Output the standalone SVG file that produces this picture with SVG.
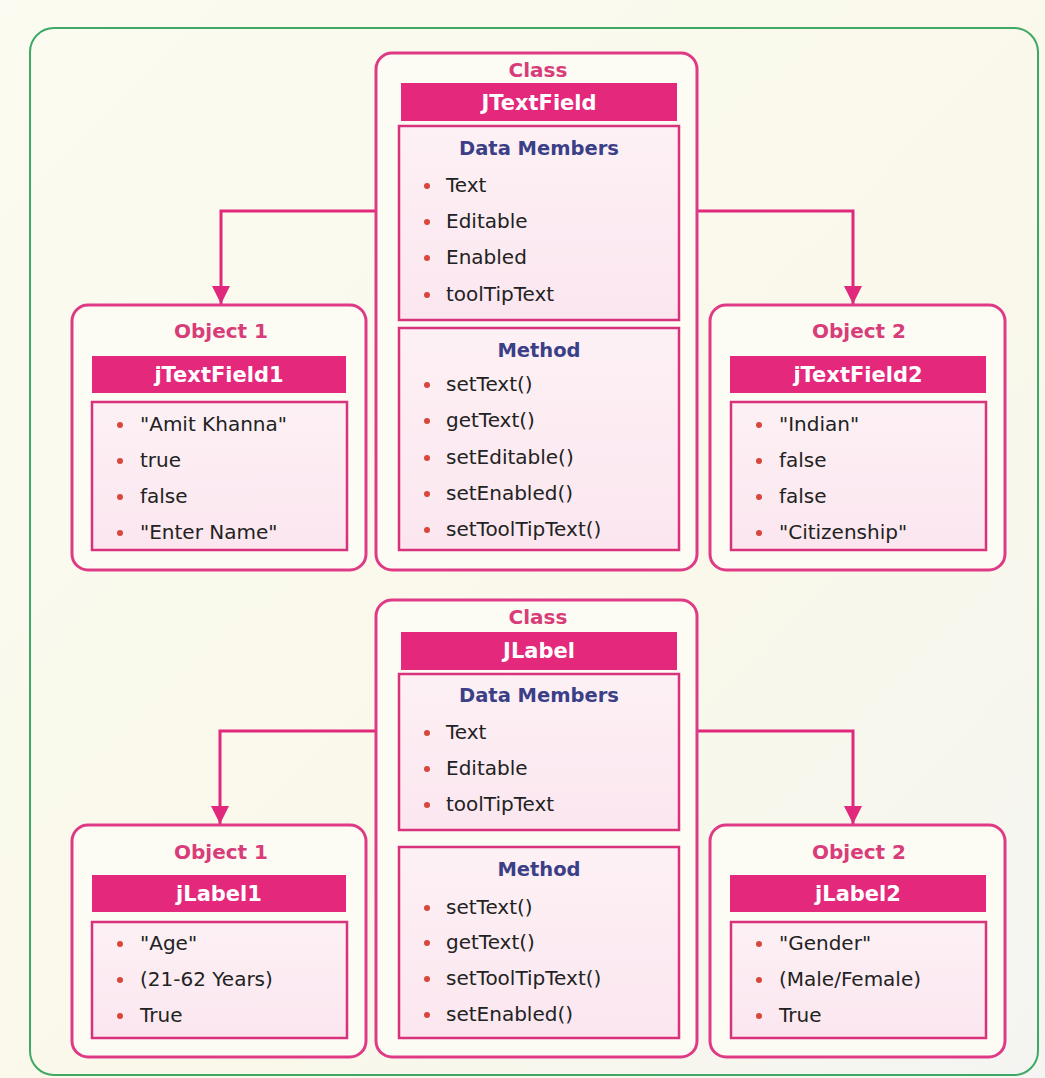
<svg xmlns="http://www.w3.org/2000/svg" width="1045" height="1078" viewBox="0 0 1045 1078">
<defs>
<linearGradient id="bg" x1="0" y1="0" x2="1" y2="1">
<stop offset="0" stop-color="#fcfbf1"/>
<stop offset="0.6" stop-color="#f9f8ea"/>
<stop offset="1" stop-color="#f4f5f2"/>
</linearGradient>
<linearGradient id="inner" x1="0" y1="0" x2="0" y2="1">
<stop offset="0" stop-color="#fdf1f5"/>
<stop offset="1" stop-color="#fbe6ef"/>
</linearGradient>
<marker id="arr" viewBox="0 0 10 10" refX="10" refY="5" markerWidth="6" markerHeight="6" markerUnits="strokeWidth" orient="auto">
<path d="M0,0 L10,5 L0,10 Z" fill="#e0287c"/>
</marker>
<style>
.outer{fill:#fdfcf4;stroke:#df3a86;stroke-width:3}
.bar{fill:#e4287c}
.inner{fill:url(#inner);stroke:#d9327d;stroke-width:2.5}
.hd{font-family:"DejaVu Sans",sans-serif;font-weight:bold;font-size:20px;fill:#d83d7a;text-anchor:middle}
.bt{font-family:"DejaVu Sans",sans-serif;font-weight:bold;font-size:21px;fill:#ffffff;text-anchor:middle}
.sec{font-family:"DejaVu Sans",sans-serif;font-weight:bold;font-size:19.5px;fill:#3b3f88;text-anchor:middle}
.it{font-family:"DejaVu Sans",sans-serif;font-size:20px;fill:#222222}
.dot{fill:#d8463c}
.conn{fill:none;stroke:#e0287c;stroke-width:3}
</style>
</defs>
<rect x="0" y="0" width="1045" height="1078" fill="url(#bg)"/>
<rect x="30" y="28" width="1008" height="1047" rx="24" fill="none" stroke="#3fa865" stroke-width="2"/>

<g id="connectors">
<path class="conn" d="M376,211 H221 V304" marker-end="url(#arr)"/>
<path class="conn" d="M697,211 H853 V304" marker-end="url(#arr)"/>
<path class="conn" d="M376,731 H220 V824" marker-end="url(#arr)"/>
<path class="conn" d="M697,731 H853 V824" marker-end="url(#arr)"/>
</g>

<g id="class-jtextfield">
<rect class="outer" x="376" y="53" width="321" height="517" rx="16"/>
<text class="hd" x="538" y="77">Class</text>
<rect class="bar" x="401" y="83" width="276" height="38"/>
<text class="bt" x="539" y="110">JTextField</text>
<rect class="inner" x="399" y="126" width="280" height="194"/>
<text class="sec" x="539" y="155">Data Members</text>
<circle class="dot" cx="427" cy="186" r="3"/><text class="it" x="446" y="192">Text</text>
<circle class="dot" cx="427" cy="222" r="3"/><text class="it" x="446" y="228">Editable</text>
<circle class="dot" cx="427" cy="258" r="3"/><text class="it" x="446" y="264">Enabled</text>
<circle class="dot" cx="427" cy="295" r="3"/><text class="it" x="446" y="301">toolTipText</text>
<rect class="inner" x="399" y="328" width="280" height="222"/>
<text class="sec" x="539" y="357">Method</text>
<circle class="dot" cx="427" cy="385" r="3"/><text class="it" x="446" y="391">setText()</text>
<circle class="dot" cx="427" cy="421" r="3"/><text class="it" x="446" y="427">getText()</text>
<circle class="dot" cx="427" cy="458" r="3"/><text class="it" x="446" y="464">setEditable()</text>
<circle class="dot" cx="427" cy="494" r="3"/><text class="it" x="446" y="500">setEnabled()</text>
<circle class="dot" cx="427" cy="530" r="3"/><text class="it" x="446" y="536">setToolTipText()</text>
</g>

<g id="object1-jtextfield1">
<rect class="outer" x="72" y="305" width="294" height="265" rx="16"/>
<text class="hd" x="221" y="338">Object 1</text>
<rect class="bar" x="92" y="356" width="254" height="37"/>
<text class="bt" x="219" y="382">jTextField1</text>
<rect class="inner" x="92" y="402" width="255" height="148"/>
<circle class="dot" cx="120" cy="425" r="3"/><text class="it" x="140" y="431">"Amit Khanna"</text>
<circle class="dot" cx="120" cy="461" r="3"/><text class="it" x="140" y="467">true</text>
<circle class="dot" cx="120" cy="497" r="3"/><text class="it" x="140" y="503">false</text>
<circle class="dot" cx="120" cy="533" r="3"/><text class="it" x="140" y="539">"Enter Name"</text>
</g>

<g id="object2-jtextfield2">
<rect class="outer" x="710" y="305" width="295" height="265" rx="16"/>
<text class="hd" x="859" y="338">Object 2</text>
<rect class="bar" x="730" y="356" width="256" height="37"/>
<text class="bt" x="858" y="382">jTextField2</text>
<rect class="inner" x="731" y="402" width="255" height="148"/>
<circle class="dot" cx="759" cy="425" r="3"/><text class="it" x="779" y="431">"Indian"</text>
<circle class="dot" cx="759" cy="461" r="3"/><text class="it" x="779" y="467">false</text>
<circle class="dot" cx="759" cy="497" r="3"/><text class="it" x="779" y="503">false</text>
<circle class="dot" cx="759" cy="533" r="3"/><text class="it" x="779" y="539">"Citizenship"</text>
</g>

<g id="class-jlabel">
<rect class="outer" x="376" y="600" width="321" height="457" rx="16"/>
<text class="hd" x="538" y="624">Class</text>
<rect class="bar" x="401" y="632" width="276" height="38"/>
<text class="bt" x="539" y="658">JLabel</text>
<rect class="inner" x="399" y="674" width="280" height="156"/>
<text class="sec" x="539" y="702">Data Members</text>
<circle class="dot" cx="427" cy="733" r="3"/><text class="it" x="446" y="739">Text</text>
<circle class="dot" cx="427" cy="769" r="3"/><text class="it" x="446" y="775">Editable</text>
<circle class="dot" cx="427" cy="805" r="3"/><text class="it" x="446" y="811">toolTipText</text>
<rect class="inner" x="399" y="847" width="280" height="191"/>
<text class="sec" x="539" y="876">Method</text>
<circle class="dot" cx="427" cy="908" r="3"/><text class="it" x="446" y="914">setText()</text>
<circle class="dot" cx="427" cy="943" r="3"/><text class="it" x="446" y="949">getText()</text>
<circle class="dot" cx="427" cy="979" r="3"/><text class="it" x="446" y="985">setToolTipText()</text>
<circle class="dot" cx="427" cy="1015" r="3"/><text class="it" x="446" y="1021">setEnabled()</text>
</g>

<g id="object1-jlabel1">
<rect class="outer" x="72" y="825" width="294" height="232" rx="16"/>
<text class="hd" x="221" y="859">Object 1</text>
<rect class="bar" x="92" y="875" width="254" height="37"/>
<text class="bt" x="219" y="901">jLabel1</text>
<rect class="inner" x="92" y="922" width="255" height="116"/>
<circle class="dot" cx="120" cy="944" r="3"/><text class="it" x="140" y="950">"Age"</text>
<circle class="dot" cx="120" cy="980" r="3"/><text class="it" x="140" y="986">(21-62 Years)</text>
<circle class="dot" cx="120" cy="1016" r="3"/><text class="it" x="140" y="1022">True</text>
</g>

<g id="object2-jlabel2">
<rect class="outer" x="710" y="825" width="295" height="232" rx="16"/>
<text class="hd" x="859" y="859">Object 2</text>
<rect class="bar" x="730" y="875" width="256" height="37"/>
<text class="bt" x="858" y="901">jLabel2</text>
<rect class="inner" x="731" y="922" width="255" height="116"/>
<circle class="dot" cx="759" cy="944" r="3"/><text class="it" x="779" y="950">"Gender"</text>
<circle class="dot" cx="759" cy="980" r="3"/><text class="it" x="779" y="986">(Male/Female)</text>
<circle class="dot" cx="759" cy="1016" r="3"/><text class="it" x="779" y="1022">True</text>
</g>
</svg>
